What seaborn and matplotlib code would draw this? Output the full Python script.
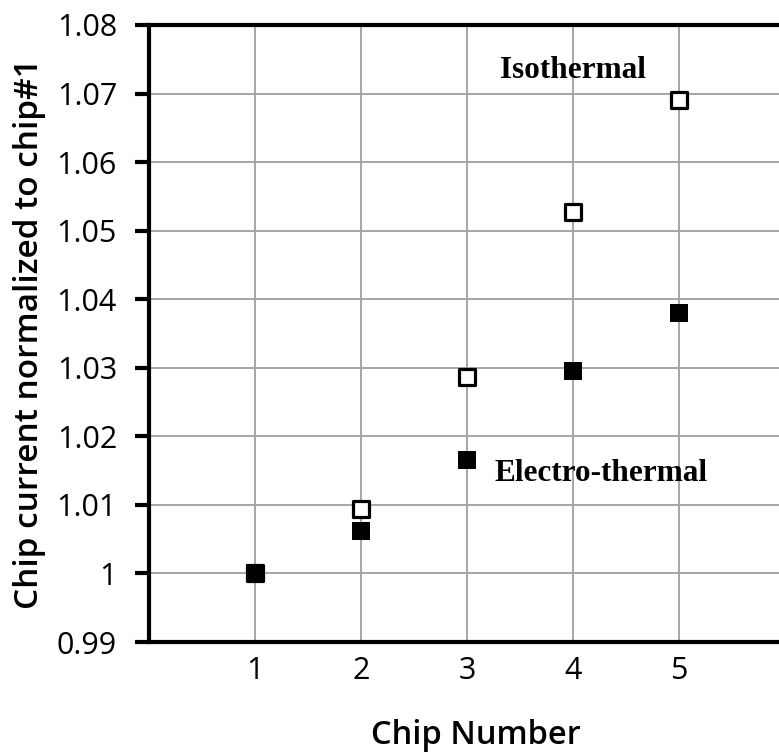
import matplotlib
matplotlib.use("Agg")
import matplotlib.pyplot as plt
import seaborn as sns
import pandas as pd
from matplotlib.ticker import FixedLocator, FuncFormatter

chips = [1, 2, 3, 4, 5]
isothermal = [1.000, 1.0094, 1.0287, 1.0527, 1.0691]
electro_thermal = [1.000, 1.0062, 1.0166, 1.0296, 1.0380]
y_ticks = [0.99, 1.00, 1.01, 1.02, 1.03, 1.04, 1.05, 1.06, 1.07, 1.08]

df_iso = pd.DataFrame({"chip": chips, "current": isothermal})
df_el = pd.DataFrame({"chip": chips, "current": electro_thermal})

sns.set_style("white")
plt.rcParams["font.family"] = ["Open Sans", "DejaVu Sans"]
plt.rcParams["text.color"] = "black"
plt.rcParams["axes.labelcolor"] = "black"
plt.rcParams["xtick.color"] = "black"
plt.rcParams["ytick.color"] = "black"

fig = plt.figure(figsize=(7.79, 7.54), dpi=100)
ax = fig.add_axes([149 / 779, 112 / 754, 636 / 779, 617 / 754])

sns.scatterplot(data=df_iso, x="chip", y="current", marker="s", s=135,
                facecolor="white", edgecolor="black", linewidth=2.3,
                ax=ax, zorder=3)
sns.scatterplot(data=df_el, x="chip", y="current", marker="s", s=150,
                color="black", edgecolor="black", linewidth=0,
                ax=ax, zorder=4)

ax.set_xlim(0, 6)
ax.set_ylim(0.99, 1.08)
ax.xaxis.set_major_locator(FixedLocator(chips))
ax.yaxis.set_major_locator(FixedLocator(y_ticks))
ax.yaxis.set_major_formatter(FuncFormatter(lambda v, p: "1" if abs(v - 1) < 1e-9 else f"{v:.2f}"))

ax.grid(True, color="#a6a6a6", linewidth=1.4)
ax.set_axisbelow(True)
for side in ["left", "top", "bottom"]:
    ax.spines[side].set_visible(True)
    ax.spines[side].set_color("black")
    ax.spines[side].set_linewidth(3)
ax.spines["right"].set_visible(False)

ax.tick_params(axis="y", which="major", direction="out", length=10, width=3,
               color="black", labelsize=22, pad=13, left=True)
ax.tick_params(axis="x", which="major", length=0, labelsize=22, pad=10)

ax.set_xlabel("Chip Number", fontsize=23.5, fontweight="semibold")
ax.xaxis.set_label_coords(0.514, -0.124)
ax.set_ylabel("Chip current normalized to chip#1", fontsize=24,
              fontweight="semibold")
ax.yaxis.set_label_coords(-0.162, 0.5)

ax.text(3.31, 1.0733, "Isothermal", family="Liberation Serif", fontweight="bold",
        fontsize=22.5, ha="left", va="center")
ax.text(3.26, 1.0146, "Electro-thermal", family="Liberation Serif", fontweight="bold",
        fontsize=22.5, ha="left", va="center")

fig.savefig("out.png", dpi=100)
